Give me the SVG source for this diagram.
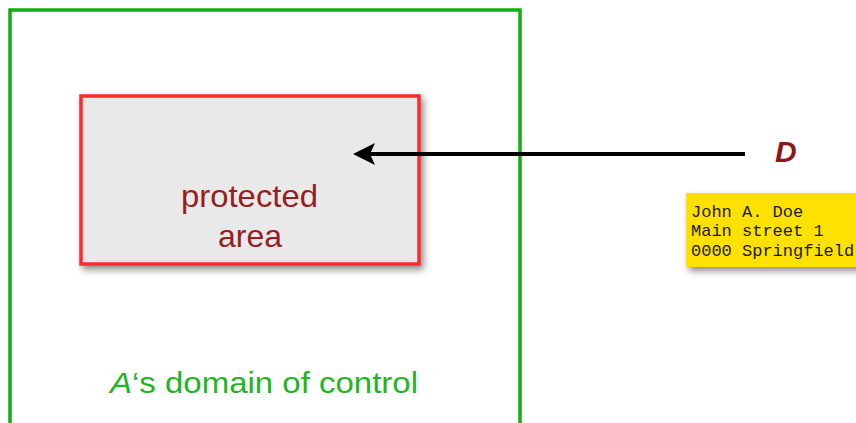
<svg xmlns="http://www.w3.org/2000/svg" width="856" height="423" viewBox="0 0 856 423">
  <defs>
    <filter id="shadow" x="-10%" y="-10%" width="130%" height="140%">
      <feDropShadow dx="3" dy="4" stdDeviation="3.5" flood-color="#000" flood-opacity="0.45"/>
    </filter>
    <!-- arrowhead pointing along +x, notch at the reference point -->
    <marker id="arrow" viewBox="0 0 22 22" refX="5" refY="11" markerWidth="22" markerHeight="22" markerUnits="userSpaceOnUse" orient="auto">
      <path d="M22,11 L0,0 L5,11 L0,22 Z" fill="#000"/>
    </marker>
  </defs>
  <style>
    .domain { fill: none; stroke: #11b011; stroke-width: 3.5; }
    .area { fill: #e9e9e9; stroke: #ff2a2a; stroke-width: 3.5; }
    .note { fill: #ffe100; }
    .sans { font-family: "Liberation Sans", Arial, sans-serif; }
    .mono { font-family: "Liberation Mono", "Courier New", monospace; font-size: 17px; fill: #1a1a1a; }
    .connector { fill: none; stroke: #000; stroke-width: 4; }
  </style>

  <rect width="856" height="423" fill="#fff"/>

  <g id="domain">
    <rect class="domain" x="10" y="10" width="510" height="430"/>
    <text class="sans" x="110" y="393" font-size="30" fill="#22b522" textLength="308" lengthAdjust="spacingAndGlyphs"><tspan font-style="italic">A</tspan>‘s domain of control</text>
  </g>

  <g id="protected-area">
    <rect class="area" x="81" y="96" width="338" height="168" filter="url(#shadow)"/>
    <text class="sans" font-size="32" fill="#962020">
      <tspan x="181" y="207" textLength="137" lengthAdjust="spacingAndGlyphs">protected</tspan>
      <tspan x="250" y="247" text-anchor="middle">area</tspan>
    </text>
  </g>

  <g id="D">
    <text class="sans" x="775" y="162" font-size="30" font-weight="bold" font-style="italic" fill="#8e1616">D</text>
  </g>

  <g id="address">
    <rect class="note" x="686" y="193" width="180" height="74" filter="url(#shadow)"/>
    <text class="mono">
      <tspan x="691" y="217">John A. Doe</tspan>
      <tspan x="691" y="236">Main street 1</tspan>
      <tspan x="691" y="256">0000 Springfield</tspan>
    </text>
  </g>

  <g id="connectors">
    <line class="connector" x1="745" y1="154" x2="370" y2="154" marker-end="url(#arrow)"/>
  </g>
</svg>
